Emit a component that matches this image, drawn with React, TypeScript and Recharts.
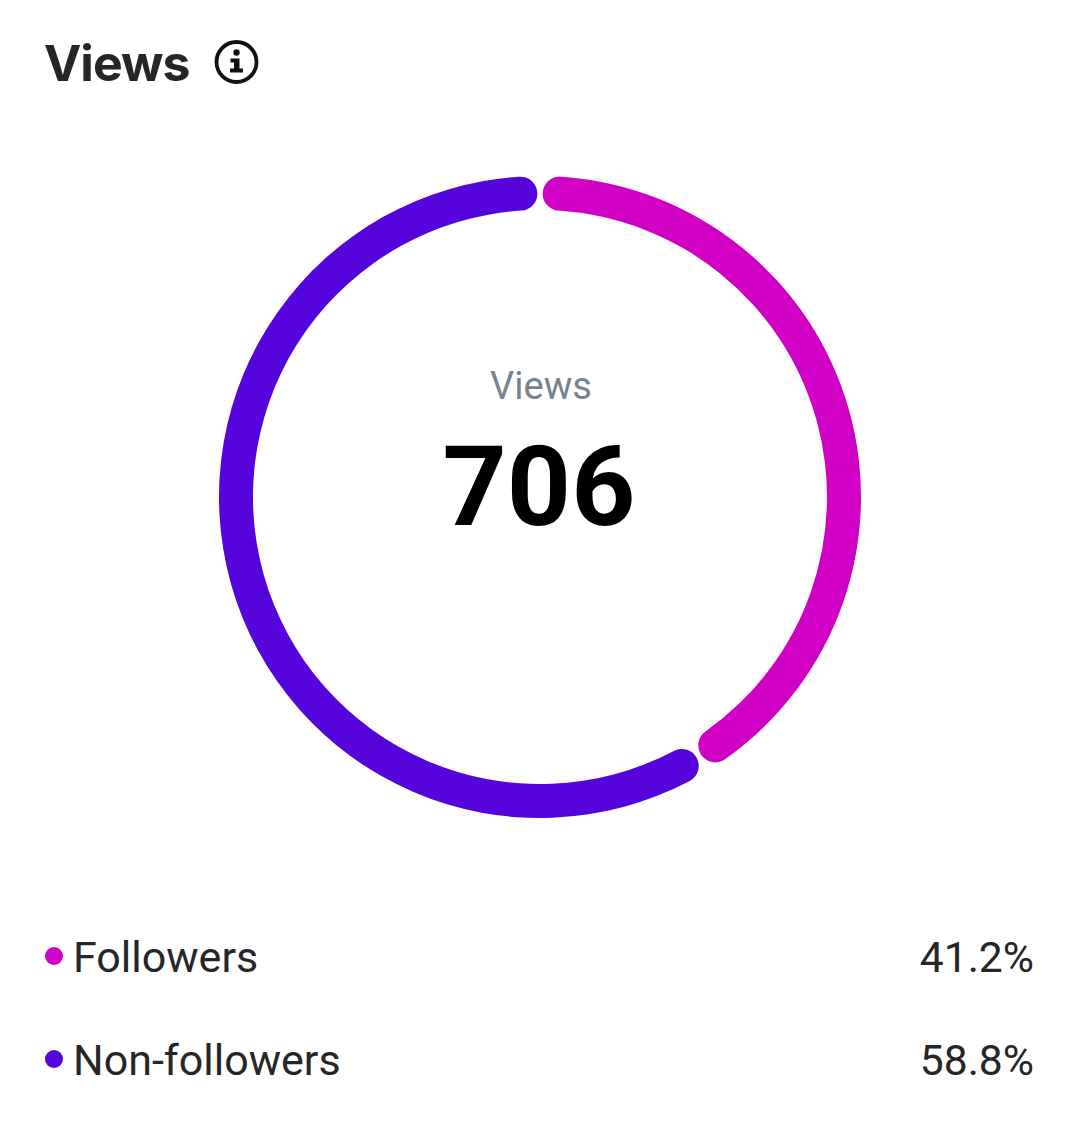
import React from 'react'
import { PieChart, Pie, Cell } from 'recharts'

const categories = ['Followers', 'Non-followers']
const shares = [41.2, 58.8]
const shareLabels = ['41.2%', '58.8%']
const colors = ['#d000c4', '#5604dc']
const total = '706'
const title = 'Views'

const rows = categories.map((name, i) => ({ name, value: shares[i] }))
const rowTops = [957, 1060]

const text = (left: number, top: number, size: number, color: string, weight = 400, family = 'Roboto'): React.CSSProperties => ({
  position: 'absolute',
  left,
  top,
  transform: 'translateY(-50%)',
  fontFamily: family,
  fontSize: size,
  fontWeight: weight,
  color,
  lineHeight: 1,
  whiteSpace: 'nowrap',
})

export default function App() {
  return (
    <div style={{ position: 'absolute', left: 0, top: 0, width: 1080, height: 1147, background: '#fff', overflow: 'hidden' }}>
      <PieChart width={1080} height={1147} margin={{ top: 0, right: 0, bottom: 0, left: 0 }}>
        <Pie
          data={rows}
          dataKey="value"
          nameKey="name"
          cx={540}
          cy={497}
          innerRadius={287}
          outerRadius={321}
          startAngle={89.5}
          endAngle={-270.5}
          paddingAngle={1}
          cornerRadius={17}
          stroke="none"
          isAnimationActive={false}
        >
          {rows.map((r, i) => (
            <Cell key={r.name} fill={colors[i]} />
          ))}
        </Pie>
      </PieChart>

      {/* heading */}
      <div style={{ ...text(44, 63, 50, '#262626', 700, 'Inter'), letterSpacing: -1 }}>{title}</div>
      <svg style={{ position: 'absolute', left: 214, top: 40 }} width={46} height={46} viewBox="0 0 46 46">
        <circle cx={22.5} cy={22} r={20} fill="none" stroke="#111" strokeWidth={3.8} />
        <circle cx={22.5} cy={12.5} r={3.2} fill="#111" />
        <path d="M16.5 18.5 H25.5 V28.5 H29 V32.5 H16 V28.5 H20 V22.5 H16.5 Z" fill="#111" />
      </svg>

      {/* centre */}
      <div style={{ ...text(0, 386, 38, '#76828c'), width: 1082, textAlign: 'center' }}>{title}</div>
      <div style={{ ...text(0, 487, 112, '#000', 700), width: 1078, textAlign: 'center' }}>{total}</div>

      {/* legend */}
      {rows.map((r, i) => (
        <React.Fragment key={r.name}>
          <div style={{ position: 'absolute', left: 45, top: rowTops[i] - 10, width: 18, height: 18, borderRadius: 9, background: colors[i] }} />
          <div style={text(73, rowTops[i], 43, '#262626')}>{r.name}</div>
          <div style={{ ...text(0, rowTops[i], 42.6, '#262626'), left: 'auto', right: 46 }}>{shareLabels[i]}</div>
        </React.Fragment>
      ))}
    </div>
  )
}
